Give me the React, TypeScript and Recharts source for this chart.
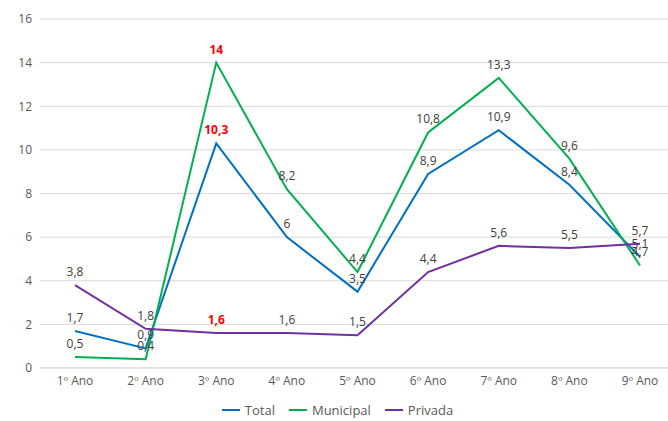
import { LineChart, Line, XAxis, YAxis, CartesianGrid, Legend, LabelList } from "recharts";

const categorias = ["1º Ano", "2º Ano", "3º Ano", "4º Ano", "5º Ano", "6º Ano", "7º Ano", "8º Ano", "9º Ano"];
const total = [1.7, 0.9, 10.3, 6, 3.5, 8.9, 10.9, 8.4, 5.1];
const municipal = [0.5, 0.4, 14, 8.2, 4.4, 10.8, 13.3, 9.6, 4.7];
const privada = [3.8, 1.8, 1.6, 1.6, 1.5, 4.4, 5.6, 5.5, 5.7];
const destaque = 2; // 3º Ano em vermelho

const series = [
  { key: "total", name: "Total", color: "#0070c0" },
  { key: "municipal", name: "Municipal", color: "#00b050" },
  { key: "privada", name: "Privada", color: "#7030a0" },
];

const data = categorias.map((c, i) => ({ cat: c, total: total[i], municipal: municipal[i], privada: privada[i] }));

const fmt = (v: number) => String(v).replace(".", ",");

const makeLabel = (props: any) => {
  const { x, y, value, index } = props;
  const red = index === destaque;
  return (
    <text x={x} y={y - 9} textAnchor="middle" fontSize={12} fill={red ? "#ff0000" : "#404040"} fontWeight={red ? "bold" : "normal"}>
      {fmt(value)}
    </text>
  );
};

const LegendBox = () => (
  <div style={{ display: "flex", justifyContent: "center", gap: 14, fontSize: 13, color: "#595959" }}>
    {series.map((s) => (
      <span key={s.key} style={{ display: "flex", alignItems: "center", gap: 5 }}>
        <span style={{ display: "inline-block", width: 18, height: 2, background: s.color }} />
        {s.name}
      </span>
    ))}
  </div>
);

export default function App() {
  return (
    <div style={{ position: "absolute", left: 0, top: 0, fontFamily: "'Open Sans', sans-serif" }}>
      <LineChart width={680} height={421} data={data} margin={{ top: 19, right: 5, bottom: 0, left: 0 }}>
        <CartesianGrid vertical={false} stroke="#d9d9d9" />
        <XAxis dataKey="cat" padding={{ left: 35, right: 35 }} axisLine={{ stroke: "#d9d9d9" }} tickLine={false} tick={{ fill: "#595959", fontSize: 12 }} height={33} />
        <YAxis domain={[0, 16]} ticks={[0, 2, 4, 6, 8, 10, 12, 14, 16]} axisLine={false} tickLine={false} width={40} tick={{ fill: "#595959", fontSize: 12 }} />
        <Legend verticalAlign="bottom" height={20} content={<LegendBox />} />
        {series.map((s) => (
          <Line key={s.key} type="linear" dataKey={s.key} name={s.name} stroke={s.color} strokeWidth={2} dot={false} isAnimationActive={false}>
            <LabelList dataKey={s.key} content={makeLabel} />
          </Line>
        ))}
      </LineChart>
    </div>
  );
}
